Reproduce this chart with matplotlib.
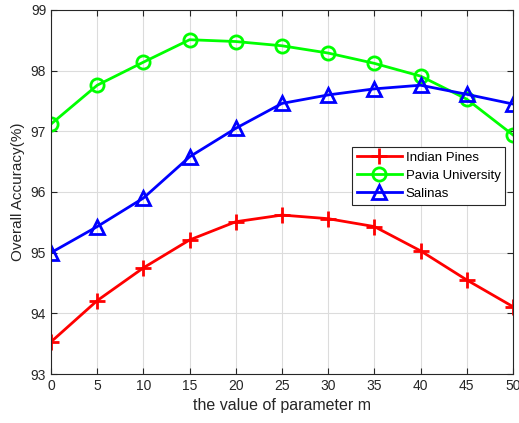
import numpy as np
import matplotlib.pyplot as plt

plt.rcParams['font.family'] = ['Liberation Sans', 'DejaVu Sans']

m_values = [0, 5, 10, 15, 20, 25, 30, 35, 40, 45, 50]
indian_pines = [93.53, 94.21, 94.75, 95.21, 95.51, 95.62, 95.56, 95.43, 95.03, 94.55, 94.11]
pavia_univ = [97.12, 97.76, 98.14, 98.51, 98.48, 98.41, 98.29, 98.12, 97.91, 97.53, 96.94]
salinas = [95.00, 95.43, 95.90, 96.58, 97.05, 97.46, 97.60, 97.70, 97.76, 97.61, 97.45]

fig = plt.figure(figsize=(5.19, 4.23), dpi=100)
ax = fig.add_axes([0.0983, 0.1158, 0.8901, 0.8606])

ax.plot(m_values, indian_pines, '-+', color=(1, 0, 0), lw=2, ms=12, mew=2, label='Indian Pines')
ax.plot(m_values, pavia_univ, '-o', color=(0, 1, 0), lw=2, ms=9.5, mew=2, mfc='none', label='Pavia University')
ax.plot(m_values, salinas, '-^', color=(0, 0, 1), lw=2, ms=10, mew=2, mfc='none', label='Salinas')

ax.set_xlim(0, 50)
ax.set_ylim(93, 99)
ax.set_xticks(m_values)
ax.set_yticks(np.arange(93, 100, 1))
ax.grid(True, color='#dcdcdc', lw=0.8)
ax.set_axisbelow(True)
ax.tick_params(direction='in', top=True, right=True, labelsize=10, colors='#262626', length=4)
for s in ax.spines.values():
    s.set_color('#262626')
    s.set_linewidth(0.8)

ax.set_xlabel('the value of parameter m', fontsize=11.5, color='#262626')
ax.set_ylabel('Overall Accuracy(%)', fontsize=11, color='#262626')

leg = ax.legend(loc='upper left', bbox_to_anchor=(0.638, 0.642), fontsize=9.5,
                fancybox=False, edgecolor='#262626', framealpha=1,
                borderpad=0.35, labelspacing=0.45, handlelength=3.4, handletextpad=0.3)
leg.get_frame().set_linewidth(0.8)

fig.savefig('out.png', dpi=100)
